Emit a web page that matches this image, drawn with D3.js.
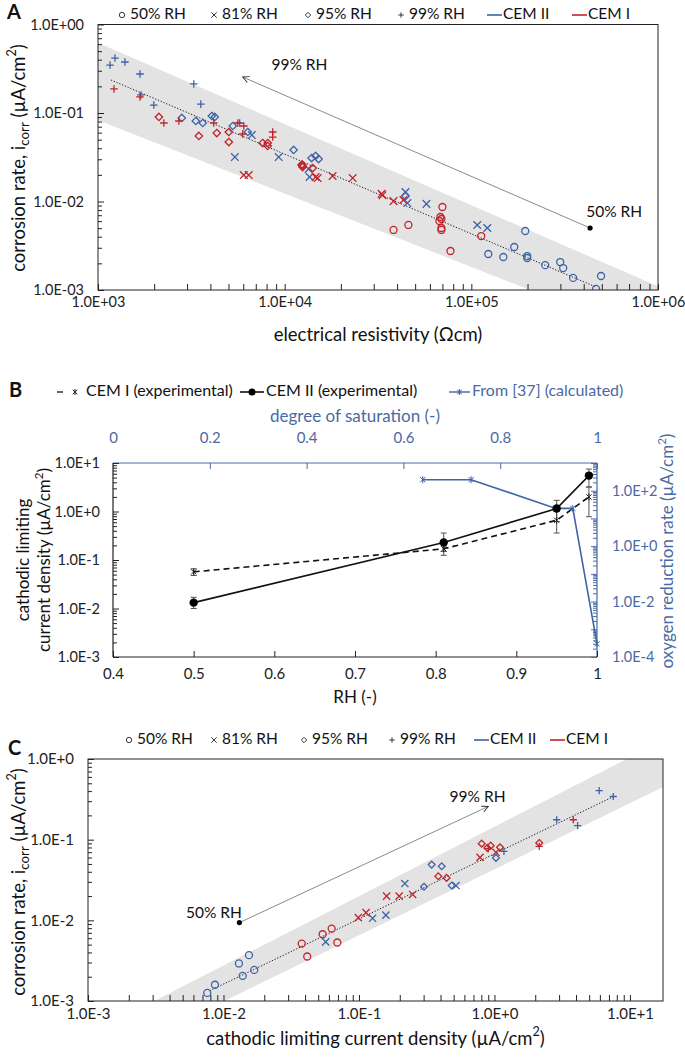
<!DOCTYPE html>
<html><head><meta charset="utf-8">
<script src="https://cdn.jsdelivr.net/npm/d3@7"></script>
<style>body{margin:0;background:#fff} svg{display:block} text{font-family:Lato,'Open Sans',sans-serif}</style>
</head><body>
<script>
// ---------------- DATA ----------------
// Panel A: [electrical resistivity (Ωcm), corrosion rate (µA/cm²)]
const aII_50 = [[123300,0.00255],[148400,0.00236],[169800,0.00306],[194400,0.00464],[199200,0.00242],[199200,0.0023],[248700,0.00191],[299300,0.00207],[310500,0.00177],[351000,0.00137],[465700,0.00103],[495400,0.00144]];
const aI_50 = [[38300,0.00477],[46000,0.00543],[70000,0.00867],[68300,0.00668],[69150,0.00634],[67450,0.00602],[69150,0.00502],[69150,0.00477],[77300,0.00276],[113000,0.00407]];
const aII_81 = [[6670,0.0563],[5410,0.0318],[9290,0.0318],[13430,0.0233],[13600,0.0189],[44360,0.0128],[45450,0.0096],[57470,0.0094],[107600,0.00543],[121800,0.00502]];
const aI_81 = [[6040,0.0199],[6420,0.0199],[14650,0.0189],[15020,0.0184],[18060,0.0194],[23140,0.0184],[33060,0.0122],[33450,0.0118],[38300,0.0101],[43300,0.0104]];
const aII_95 = [[2812,0.0879],[3342,0.0812],[3640,0.0771],[4070,0.0925],[4223,0.0902],[5275,0.0713],[6346,0.061],[11170,0.0382],[13940,0.031],[14650,0.0327],[15200,0.0302],[44360,0.0115]];
const aI_95 = [[2119,0.0902],[3470,0.055],[4327,0.0594],[5020,0.061],[5020,0.047],[7621,0.0458],[8110,0.0458],[8110,0.0424],[12330,0.0258],[12480,0.0245],[12400,0.0262],[12450,0.0252],[14130,0.0239]];
const aII_99 = [[1160,0.348],[1233,0.418],[1394,0.377],[1678,0.276],[1698,0.16],[1990,0.123],[3259,0.213],[3553,0.126],[5741,0.0771]];
const aI_99 = [[1218,0.187],[1678,0.152],[2254,0.0771],[2712,0.0812],[4169,0.0771],[5610,0.0771],[6040,0.0713],[5960,0.0579],[8630,0.061],[8630,0.0535]];
const aFitX = [1173, 465700], aFitY = [0.236, 0.00108];
const aBandX = [1e3, 1e6], aBandUpper = [0.62, 0.0011], aBandLower = [0.083, 0.00027];
const aArrow = [[432700, 0.00502], [5960, 0.255]];
const aXTicks = [1e3, 1e4, 1e5, 1e6], aXLabels = ["1.0E+03","1.0E+04","1.0E+05","1.0E+06"];
const aYTicks = [1e-3, 1e-2, 1e-1, 1], aYLabels = ["1.0E-03","1.0E-02","1.0E-01","1.0E+00"];

// Panel B
const bRH = [0.5, 0.81, 0.95, 0.99];
const bCem1 = [0.057, 0.17, 0.66, 2.0], bCem1Lo = [0.048, 0.125, 0.36, 0.78], bCem1Hi = [0.066, 0.23, 1.0, 3.2];
const bCem2 = [0.0132, 0.23, 1.15, 5.5], bCem2Lo = [0.0100, 0.15, 0.62, 3.2], bCem2Hi = [0.017, 0.36, 1.7, 7.5];
const bSat = [0.64, 0.74, 0.915, 0.95, 1.0], bCalc = [250, 250, 23, 23, 0.0003];
const bXTicks = [0.4,0.5,0.6,0.7,0.8,0.9,1], bXLabels = ["0.4","0.5","0.6","0.7","0.8","0.9","1"];
const bTopTicks = [0,0.2,0.4,0.6,0.8,1], bTopLabels = ["0","0.2","0.4","0.6","0.8","1"];
const bYTicks = [1e-3,1e-2,1e-1,1,10], bYLabels = ["1.0E-3","1.0E-2","1.0E-1","1.0E+0","1.0E+1"];
const bRTicks = [1e-4,1e-2,1,1e2], bRLabels = ["1.0E-4","1.0E-2","1.0E+0","1.0E+2"];

// Panel C: [cathodic limiting current density, corrosion rate]
const cII_50 = [[0.00759,0.00126],[0.00865,0.00159],[0.0130,0.00292],[0.01386,0.00205],[0.01542,0.0037],[0.01687,0.00243]];
const cI_50 = [[0.0378,0.00515],[0.0415,0.00356],[0.0539,0.00672],[0.0629,0.0079],[0.0692,0.00531]];
const cII_81 = [[0.0568,0.0054],[0.126,0.0106],[0.158,0.0116],[0.218,0.0286],[0.52,0.027]];
const cI_81 = [[0.0989,0.0108],[0.1127,0.01245],[0.160,0.01995],[0.198,0.01995],[0.249,0.02094],[0.782,0.0604],[1.026,0.0697]];
const cII_95 = [[0.302,0.0261],[0.344,0.0491],[0.408,0.0468],[0.483,0.027],[1.026,0.0594]];
const cI_95 = [[0.385,0.0352],[0.443,0.0336],[0.805,0.0893],[0.886,0.079],[0.938,0.0843],[1.099,0.0803],[2.14,0.091]];
const cII_99 = [[1.175,0.0717],[2.88,0.1766],[4.11,0.149],[5.93,0.406],[7.53,0.343]];
const cI_99 = [[0.90,0.0774],[2.14,0.0826],[3.82,0.1766]];
const cFitX = [0.0079, 7.5], cFitY = [0.00134, 0.34];
const cBandX = [1e-3, 20], cBandUpper = [0.00038, 1.9], cBandLower = [0.00015, 0.50];
const cArrow = [[0.0131, 0.00937], [0.90, 0.258]];
const cXTicks = [1e-3,1e-2,1e-1,1,10], cXLabels = ["1.0E-3","1.0E-2","1.0E-1","1.0E+0","1.0E+1"];
const cYTicks = [1e-3,1e-2,1e-1,1], cYLabels = ["1.0E-3","1.0E-2","1.0E-1","1.0E+0"];

const rhLegend = ["50% RH","81% RH","95% RH","99% RH"];
const cemLegend = ["CEM II","CEM I"];

// ---------------- STYLE ----------------
const BLUE = "#3e63a6", RED = "#c3232b", BTXT = "#4a6aa5", GRAY_BAND = "#e3e3e3";
const FT = 14.5;   // tick label size
const FL = 15.5;   // legend size
const FA = 18.5;   // axis title size
const W = 685, H = 1057;
const svg = d3.select("body").append("svg").attr("width", W).attr("height", H);
const defs = svg.append("defs");
defs.append("marker").attr("id","arr").attr("viewBox","0 0 10 10").attr("refX",9).attr("refY",5)
  .attr("markerWidth",8).attr("markerHeight",8).attr("orient","auto-start-reverse").attr("markerUnits","userSpaceOnUse")
  .append("path").attr("d","M1,1 L9,5 L1,9").attr("fill","none").attr("stroke","#333").attr("stroke-width",1.2);

function shapePath(shape, s) {
  if (shape === "x") return `M${-s},${-s}L${s},${s}M${-s},${s}L${s},${-s}`;
  if (shape === "diamond") return `M0,${-s}L${s},0L0,${s}L${-s},0Z`;
  if (shape === "plus") return `M${-s},0L${s},0M0,${-s}L0,${s}`;
  if (shape === "star") { const a = s*0.75; return `M${-a},${-a}L${a},${a}M${-a},${a}L${a},${-a}M0,${-s}L0,${s}`; }
  return null;
}
function marker(g, shape, x, y, s, color, sw) {
  if (shape === "circle") return g.append("circle").attr("cx",x).attr("cy",y).attr("r",s).attr("fill","none").attr("stroke",color).attr("stroke-width",sw);
  if (shape === "dot") return g.append("circle").attr("cx",x).attr("cy",y).attr("r",s).attr("fill",color);
  return g.append("path").attr("d",shapePath(shape,s)).attr("transform",`translate(${x},${y})`).attr("fill","none").attr("stroke",color).attr("stroke-width",sw);
}
function minorLog(domain) {
  const [lo, hi] = d3.extent(domain); const out = [];
  for (let e = Math.floor(Math.log10(lo)); e <= Math.ceil(Math.log10(hi)); e++)
    for (let m = 2; m <= 9; m++) { const v = m * Math.pow(10, e); if (v > lo*1.0001 && v < hi*0.9999) out.push(v); }
  return out;
}
function axis(g, gen, scale, values, labels, inner, pad, color, fs, tx, ty) {
  const ax = gen(scale).tickValues(values).tickSizeInner(-inner).tickSizeOuter(0).tickPadding(pad)
    .tickFormat((d,i) => labels ? labels[i] : "");
  const a = g.append("g").attr("transform",`translate(${tx},${ty})`).call(ax);
  a.select(".domain").remove();
  a.selectAll("line").attr("stroke",color);
  a.selectAll("text").attr("fill",color).style("font-size",fs+"px").style("font-family","Lato,'Open Sans',sans-serif");
  return a;
}
function clip(id, x0, y0, x1, y1) {
  defs.append("clipPath").attr("id",id).append("rect").attr("x",x0).attr("y",y0).attr("width",x1-x0).attr("height",y1-y0);
}
function band(g, x, y, xs, up, lo, id) {
  const pts = [[xs[0],up[0]],[xs[1],up[1]],[xs[1],lo[1]],[xs[0],lo[0]]].map(p => [x(p[0]), y(p[1])]);
  g.append("path").attr("d", "M" + pts.join("L") + "Z").attr("fill", GRAY_BAND).attr("clip-path",`url(#${id})`);
}
function fitLine(g, x, y, xs, ys) {
  g.append("line").attr("x1",x(xs[0])).attr("y1",y(ys[0])).attr("x2",x(xs[1])).attr("y2",y(ys[1]))
    .attr("stroke","#222").attr("stroke-width",1).attr("stroke-dasharray","1.3,1.7");
}
function arrow(g, x, y, a) {
  g.append("line").attr("x1",x(a[0][0])).attr("y1",y(a[0][1])).attr("x2",x(a[1][0])).attr("y2",y(a[1][1]))
    .attr("stroke","#8a8a8a").attr("stroke-width",1).attr("marker-end","url(#arr)");
  g.append("circle").attr("cx",x(a[0][0])).attr("cy",y(a[0][1])).attr("r",2.6).attr("fill","#000");
}
function txt(g, x, y, s, fs, opts = {}) {
  return g.append("text").attr("x",x).attr("y",y).text(s).style("font-size",fs+"px")
    .attr("fill",opts.fill||"#111").attr("text-anchor",opts.anchor||"start")
    .style("font-weight",opts.weight||"normal").attr("dominant-baseline","middle");
}
function unitTitle(g, x, y, pre, sub, rotate, fs, fill) {
  const t = g.append("text").attr("transform",`translate(${x},${y})` + (rotate?" rotate(-90)":""))
    .attr("text-anchor","middle").attr("fill",fill||"#111").style("font-size",fs+"px").attr("dominant-baseline","middle");
  t.append("tspan").text(pre);
  if (sub) { t.append("tspan").text(sub).attr("dy",fs*0.3).style("font-size",(fs*0.72)+"px"); t.append("tspan").text(" (µA/cm").attr("dy",-fs*0.3); }
  else t.append("tspan").text("(µA/cm");
  t.append("tspan").text("2").attr("dy",-fs*0.38).style("font-size",(fs*0.68)+"px");
  t.append("tspan").text(")").attr("dy",fs*0.38);
  return t;
}
function scatterLegend(g, y, xs, fs) {
  const shapes = ["circle","x","diamond","plus"];
  shapes.forEach((sh,i) => {
    marker(g, sh, xs[i], y, 2.7, "#222", 0.9);
    txt(g, xs[i]+8, y, rhLegend[i], fs);
  });
  [BLUE, RED].forEach((c,i) => {
    const x0 = xs[4+i];
    g.append("line").attr("x1",x0).attr("x2",x0+15).attr("y1",y).attr("y2",y).attr("stroke",c).attr("stroke-width",1.6);
    txt(g, x0+16, y, cemLegend[i], fs);
  });
}
function frame(g, x0, y0, x1, y1) {
  g.append("rect").attr("x",x0).attr("y",y0).attr("width",x1-x0).attr("height",y1-y0).attr("fill","none").attr("stroke","#222").attr("stroke-width",1);
}

// ---------------- PANEL A ----------------
{
  const g = svg.append("g");
  const L = 98, R = 658, T = 24.5, B = 290;
  const x = d3.scaleLog().domain([1e3,1e6]).range([L,R]);
  const y = d3.scaleLog().domain([1e-3,1]).range([B,T]);
  clip("clipA", L, T, R, B);
  band(g, x, y, aBandX, aBandUpper, aBandLower, "clipA");
  fitLine(g, x, y, aFitX, aFitY);
  arrow(g, x, y, aArrow);
  txt(g, x(8500), y(0.34), "99% RH", FL);
  txt(g, x(582000), y(0.0074), "50% RH", FL, {anchor:"middle"});
  const series = [[aII_50,"circle",BLUE],[aI_50,"circle",RED],[aII_81,"x",BLUE],[aI_81,"x",RED],
                  [aII_95,"diamond",BLUE],[aI_95,"diamond",RED],[aII_99,"plus",BLUE],[aI_99,"plus",RED]];
  const mg = g.append("g").attr("clip-path","url(#clipA)");
  series.forEach(([d,sh,c]) => d.forEach(p => marker(mg, sh, x(p[0]), y(p[1]), sh==="circle"?3.5:(sh==="diamond"?3.7:3.8), c, 1.3)));
  frame(g, L, T, R, B);
  axis(g, d3.axisBottom, x, aXTicks, aXLabels, 6, 7, "#222", FT, 0, B);
  axis(g, d3.axisBottom, x, minorLog([1e3,1e6]), null, 6, 0, "#222", FT, 0, B);
  axis(g, d3.axisLeft, y, aYTicks, aYLabels, 6, 14, "#222", FT, L, 0);
  axis(g, d3.axisLeft, y, minorLog([1e-3,1]), null, 4, 0, "#222", FT, L, 0);
  txt(g, 7, 14, "A", 20, {weight:"bold"});
  scatterLegend(g, 15, [122, 214, 308, 401, 487, 572], FL);
  txt(g, (L+R)/2, 336, "electrical resistivity (Ωcm)", FA, {anchor:"middle"});
  unitTitle(g, 20, 158, "corrosion rate, i", "corr", true, FA);
}

// ---------------- PANEL B ----------------
{
  const g = svg.append("g");
  const L = 113, R = 597, T = 463, B = 657;
  const x = d3.scaleLinear().domain([0.4,1]).range([L,R]);
  const xs = d3.scaleLinear().domain([0,1]).range([L,R]);
  const y = d3.scaleLog().domain([1e-3,10]).range([B,T]);
  const yr = d3.scaleLog().domain([1e-4,1e3]).range([B,T]);
  // frame
  g.append("line").attr("x1",L).attr("x2",R).attr("y1",T).attr("y2",T).attr("stroke",BTXT).attr("stroke-width",1.2);
  g.append("line").attr("x1",R).attr("x2",R).attr("y1",T).attr("y2",B).attr("stroke",BTXT).attr("stroke-width",1.2);
  g.append("line").attr("x1",L).attr("x2",R).attr("y1",B).attr("y2",B).attr("stroke","#222").attr("stroke-width",1.2);
  g.append("line").attr("x1",L).attr("x2",L).attr("y1",T).attr("y2",B).attr("stroke","#222").attr("stroke-width",1.2);
  axis(g, d3.axisBottom, x, bXTicks, bXLabels, 6, 11, "#222", FT+0.5, 0, B);
  axis(g, d3.axisTop, xs, bTopTicks, bTopLabels, 6, 20, BTXT, FT+0.5, 0, T);
  axis(g, d3.axisLeft, y, bYTicks, bYLabels, 6, 13, "#222", FT, L, 0);
  axis(g, d3.axisLeft, y, minorLog([1e-3,10]), null, 4, 0, "#222", FT, L, 0);
  axis(g, d3.axisRight, yr, bRTicks, bRLabels, 6, 15, BTXT, FT, R, 0);
  axis(g, d3.axisRight, yr, [1e-3,1e-1,10,1e3], null, 6, 0, BTXT, FT, R, 0);
  axis(g, d3.axisRight, yr, minorLog([1e-4,1e3]), null, 4, 0, BTXT, FT, R, 0);
  // error bars
  const eb = (vals, lo, hi, dx) => bRH.forEach((r,i) => {
    const cx = x(r) + dx;
    g.append("line").attr("x1",cx).attr("x2",cx).attr("y1",y(lo[i])).attr("y2",y(hi[i])).attr("stroke","#555").attr("stroke-width",1);
    [lo[i],hi[i]].forEach(v => g.append("line").attr("x1",cx-3).attr("x2",cx+3).attr("y1",y(v)).attr("y2",y(v)).attr("stroke","#555").attr("stroke-width",1));
  });
  eb(bCem1, bCem1Lo, bCem1Hi, 0);
  eb(bCem2, bCem2Lo, bCem2Hi, 0);
  const line = d3.line().x(d => x(d[0])).y(d => y(d[1]));
  g.append("path").attr("d", line(bRH.map((r,i)=>[r,bCem1[i]]))).attr("fill","none").attr("stroke","#111").attr("stroke-width",1.6).attr("stroke-dasharray","6,4");
  g.append("path").attr("d", line(bRH.map((r,i)=>[r,bCem2[i]]))).attr("fill","none").attr("stroke","#111").attr("stroke-width",1.6);
  const lineR = d3.line().x(d => xs(d[0])).y(d => yr(d[1]));
  g.append("path").attr("d", lineR(bSat.map((s,i)=>[s,bCalc[i]]))).attr("fill","none").attr("stroke",BLUE).attr("stroke-width",1.6);
  bSat.forEach((s,i) => marker(g, "star", xs(s), yr(bCalc[i]), 3.5, BLUE, 1));
  bRH.forEach((r,i) => marker(g, "star", x(r), y(bCem1[i]), 3.5, "#222", 1));
  bRH.forEach((r,i) => marker(g, "dot", x(r), y(bCem2[i]), 4.2, "#000"));
  // legend
  const ly = 392;
  txt(g, 9, ly, "B", 20, {weight:"bold"});
  g.append("line").attr("x1",57).attr("x2",63).attr("y1",ly).attr("y2",ly).attr("stroke","#222").attr("stroke-width",1.4);
  marker(g, "star", 75, ly, 3, "#222", 1);
  txt(g, 86, ly, "CEM I (experimental)", 16);
  g.append("line").attr("x1",240).attr("x2",264).attr("y1",ly).attr("y2",ly).attr("stroke","#111").attr("stroke-width",1.6);
  marker(g, "dot", 252, ly, 3.5, "#000");
  txt(g, 266, ly, "CEM II (experimental)", 16);
  g.append("line").attr("x1",449).attr("x2",470).attr("y1",ly).attr("y2",ly).attr("stroke",BLUE).attr("stroke-width",1.4);
  marker(g, "star", 459.5, ly, 3, BLUE, 1);
  txt(g, 472, ly, "From [37] (calculated)", 16, {fill:BTXT});
  txt(g, (L+R)/2, 418, "degree of saturation (-)", 17, {anchor:"middle", fill:BTXT});
  txt(g, (L+R)/2, 699, "RH (-)", 17, {anchor:"middle"});
  g.append("text").attr("transform","translate(25,560) rotate(-90)").attr("text-anchor","middle").attr("dominant-baseline","middle")
    .style("font-size","17px").attr("fill","#111").text("cathodic limiting");
  unitTitle(g, 46, 560, "current density ", null, true, 17);
  unitTitle(g, 669, 551, "oxygen reduction rate ", null, true, 17, BTXT);
}

// ---------------- PANEL C ----------------
{
  const g = svg.append("g");
  const L = 88, R = 663, T = 759, B = 1001;
  const x = d3.scaleLog().domain([1e-3, Math.pow(10,1.244)]).range([L,R]);
  const y = d3.scaleLog().domain([1e-3,1]).range([B,T]);
  clip("clipC", L, T, R, B);
  band(g, x, y, cBandX, cBandUpper, cBandLower, "clipC");
  fitLine(g, x, y, cFitX, cFitY);
  arrow(g, x, y, cArrow);
  txt(g, x(0.013)-25, y(0.0118), "50% RH", FL, {anchor:"middle"});
  txt(g, x(0.75), y(0.33), "99% RH", FL, {anchor:"middle"});
  const series = [[cII_50,"circle",BLUE],[cI_50,"circle",RED],[cII_81,"x",BLUE],[cI_81,"x",RED],
                  [cII_95,"diamond",BLUE],[cI_95,"diamond",RED],[cII_99,"plus",BLUE],[cI_99,"plus",RED]];
  const mg = g.append("g").attr("clip-path","url(#clipC)");
  series.forEach(([d,sh,c]) => d.forEach(p => marker(mg, sh, x(p[0]), y(p[1]), sh==="circle"?3.5:(sh==="diamond"?3.4:3.6), c, 1.3)));
  frame(g, L, T, R, B);
  axis(g, d3.axisBottom, x, cXTicks, cXLabels, 6, 7, "#222", FT+0.5, 0, B);
  axis(g, d3.axisBottom, x, minorLog([1e-3,10]), null, 6, 0, "#222", FT, 0, B);
  axis(g, d3.axisLeft, y, cYTicks, cYLabels, 6, 14, "#222", FT+0.5, L, 0);
  axis(g, d3.axisLeft, y, minorLog([1e-3,1]), null, 4, 0, "#222", FT, L, 0);
  txt(g, 8, 750, "C", 20, {weight:"bold"});
  scatterLegend(g, 740, [129, 214, 304, 392, 474, 550], FL);
  unitTitle(g, (L+R)/2, 1040, "cathodic limiting current density ", null, false, FA);
  unitTitle(g, 20, 882, "corrosion rate, i", "corr", true, FA);
}
</script></body></html>
